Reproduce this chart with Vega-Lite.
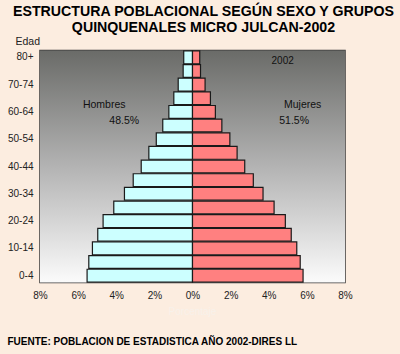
{
  "$schema": "https://vega.github.io/schema/vega-lite/v6.json",
  "width": 305,
  "height": 232,
  "autosize": "none",
  "padding": {"left": 40, "top": 50.5, "right": 55, "bottom": 71.5},
  "background": "#fcede0",
  "config": {
    "view": {"stroke": "#3a3a3a", "strokeWidth": 1.5},
    "font": "Liberation Sans",
    "axisX": {"labelOverlap": false, "labelSeparation": -40, "labelFlush": false}
  },
  "title": {
    "text": ["ESTRUCTURA POBLACIONAL SEGÚN SEXO Y GRUPOS", "QUINQUENALES MICRO JULCAN-2002"],
    "font": "Liberation Sans",
    "fontWeight": "bold",
    "fontSize": 14.2,
    "lineHeight": 16,
    "color": "#000000",
    "anchor": "middle",
    "dx": 11,
    "offset": 1
  },
  "data": {
    "values": [
      {"edad": "0-4", "sexo": "Hombres", "pct": 5.53},
      {"edad": "5-9", "sexo": "Hombres", "pct": 5.44},
      {"edad": "10-14", "sexo": "Hombres", "pct": 5.25},
      {"edad": "15-19", "sexo": "Hombres", "pct": 4.97},
      {"edad": "20-24", "sexo": "Hombres", "pct": 4.69},
      {"edad": "25-29", "sexo": "Hombres", "pct": 4.13},
      {"edad": "30-34", "sexo": "Hombres", "pct": 3.57},
      {"edad": "35-39", "sexo": "Hombres", "pct": 3.11},
      {"edad": "40-44", "sexo": "Hombres", "pct": 2.69},
      {"edad": "45-49", "sexo": "Hombres", "pct": 2.29},
      {"edad": "50-54", "sexo": "Hombres", "pct": 1.9},
      {"edad": "55-59", "sexo": "Hombres", "pct": 1.56},
      {"edad": "60-64", "sexo": "Hombres", "pct": 1.24},
      {"edad": "65-69", "sexo": "Hombres", "pct": 0.98},
      {"edad": "70-74", "sexo": "Hombres", "pct": 0.75},
      {"edad": "75-79", "sexo": "Hombres", "pct": 0.49},
      {"edad": "80+", "sexo": "Hombres", "pct": 0.46},
      {"edad": "0-4", "sexo": "Mujeres", "pct": 5.8},
      {"edad": "5-9", "sexo": "Mujeres", "pct": 5.65},
      {"edad": "10-14", "sexo": "Mujeres", "pct": 5.47},
      {"edad": "15-19", "sexo": "Mujeres", "pct": 5.18},
      {"edad": "20-24", "sexo": "Mujeres", "pct": 4.87},
      {"edad": "25-29", "sexo": "Mujeres", "pct": 4.28},
      {"edad": "30-34", "sexo": "Mujeres", "pct": 3.7},
      {"edad": "35-39", "sexo": "Mujeres", "pct": 3.19},
      {"edad": "40-44", "sexo": "Mujeres", "pct": 2.74},
      {"edad": "45-49", "sexo": "Mujeres", "pct": 2.34},
      {"edad": "50-54", "sexo": "Mujeres", "pct": 1.96},
      {"edad": "55-59", "sexo": "Mujeres", "pct": 1.54},
      {"edad": "60-64", "sexo": "Mujeres", "pct": 1.2},
      {"edad": "65-69", "sexo": "Mujeres", "pct": 0.94},
      {"edad": "70-74", "sexo": "Mujeres", "pct": 0.66},
      {"edad": "75-79", "sexo": "Mujeres", "pct": 0.42},
      {"edad": "80+", "sexo": "Mujeres", "pct": 0.38}
    ]
  },
  "transform": [
    {"calculate": "datum.sexo === 'Hombres' ? -datum.pct : datum.pct", "as": "valor"}
  ],
  "encoding": {
    "x": {
      "type": "quantitative",
      "scale": {"domain": [-8, 8], "nice": false, "zero": false},
      "axis": {
        "values": [-8, -6, -4, -2, 0, 2, 4, 6, 8],
        "labelExpr": "replace(datum.label, '−', '') + '%'",
        "labelOverlap": false,
        "labelSeparation": -40,
        "labelFlush": false,
        "grid": false,
        "domain": false,
        "ticks": false,
        "labelPadding": 8,
        "labelFontSize": 10,
        "labelColor": "#222222",
        "title": "FUENTE:  POBLACION DE ESTADISTICA AÑO 2002-DIRES LL",
        "titleFont": "Liberation Sans",
        "titleFontWeight": "bold",
        "titleFontSize": 10,
        "titleColor": "#000000",
        "titleAnchor": "start",
        "titleAlign": "left",
        "titleBaseline": "alphabetic",
        "titleX": -33,
        "titleY": 61.5
      }
    }
  },
  "layer": [
    {
      "data": {"values": [{}]},
      "mark": {
        "type": "rect",
        "fill": {
          "gradient": "linear",
          "x1": 0, "y1": 0, "x2": 0, "y2": 1,
          "stops": [
            {"offset": 0, "color": "#6a6b68"},
            {"offset": 0.5, "color": "#b3b3b3"},
            {"offset": 1, "color": "#fbfbfb"}
          ]
        }
      },
      "encoding": {
        "x": {"datum": -8},
        "x2": {"datum": 8}
      }
    },
    {
      "mark": {"type": "bar", "stroke": "#1a1a1a", "strokeWidth": 1.2},
      "encoding": {
        "y": {
          "field": "edad",
          "type": "nominal",
          "scale": {
            "domain": ["80+", "75-79", "70-74", "65-69", "60-64", "55-59", "50-54", "45-49", "40-44", "35-39", "30-34", "25-29", "20-24", "15-19", "10-14", "5-9", "0-4"],
            "paddingInner": 0.06,
            "paddingOuter": 0.03
          },
          "axis": {
            "values": ["80+", "70-74", "60-64", "50-54", "40-44", "30-34", "20-24", "10-14", "0-4"],
            "title": "Edad",
            "titleAngle": 0,
            "titleAlign": "left",
            "titleBaseline": "alphabetic",
            "titleX": -25,
            "titleY": -6,
            "titleFontSize": 10.5,
            "titleFontWeight": "normal",
            "titleColor": "#222222",
            "ticks": false,
            "domain": false,
            "labelPadding": 7,
            "labelFontSize": 10,
            "labelColor": "#222222"
          }
        },
        "x": {"field": "valor"},
        "color": {
          "field": "sexo",
          "type": "nominal",
          "scale": {"domain": ["Hombres", "Mujeres"], "range": ["#ccffff", "#ff8080"]},
          "legend": null
        }
      }
    },
    {
      "data": {"values": [{}]},
      "mark": {"type": "text", "fontSize": 10.5, "color": "#111111", "dy": 6.5},
      "encoding": {
        "x": {"datum": -4.63},
        "y": {"datum": "65-69", "type": "nominal"},
        "text": {"value": "Hombres"}
      }
    },
    {
      "data": {"values": [{}]},
      "mark": {"type": "text", "fontSize": 10.5, "color": "#111111", "dy": -4.5},
      "encoding": {
        "x": {"datum": -3.58},
        "y": {"datum": "55-59", "type": "nominal"},
        "text": {"value": "48.5%"}
      }
    },
    {
      "data": {"values": [{}]},
      "mark": {"type": "text", "fontSize": 10.5, "color": "#111111", "dy": 6.5},
      "encoding": {
        "x": {"datum": 5.78},
        "y": {"datum": "65-69", "type": "nominal"},
        "text": {"value": "Mujeres"}
      }
    },
    {
      "data": {"values": [{}]},
      "mark": {"type": "text", "fontSize": 10.5, "color": "#111111", "dy": -4.5},
      "encoding": {
        "x": {"datum": 5.33},
        "y": {"datum": "55-59", "type": "nominal"},
        "text": {"value": "51.5%"}
      }
    },
    {
      "data": {"values": [{}]},
      "mark": {"type": "text", "fontSize": 10, "color": "#111111", "dy": 4},
      "encoding": {
        "x": {"datum": 4.73},
        "y": {"datum": "80+", "type": "nominal"},
        "text": {"value": "2002"}
      }
    },
    {
      "data": {"values": [{}]},
      "mark": {"type": "text", "fontSize": 10, "color": "#f8f1ea", "dy": 29},
      "encoding": {
        "x": {"datum": 0},
        "y": {"value": "height"},
        "text": {"value": "Porcentaje"}
      }
    }
  ]
}
